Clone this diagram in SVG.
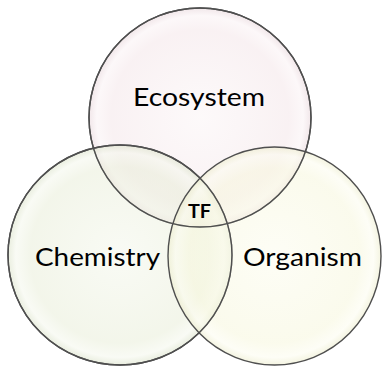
<svg xmlns="http://www.w3.org/2000/svg" width="382" height="368" viewBox="0 0 382 368">
  <defs>
    <radialGradient id="gTop" cx="50%" cy="50%" r="50%">
      <stop offset="0%" stop-color="#fbf5f6"/>
      <stop offset="80%" stop-color="#f4e6e9"/>
      <stop offset="93%" stop-color="#faf2f4"/>
      <stop offset="100%" stop-color="#e6d3d8"/>
    </radialGradient>
    <radialGradient id="gLeft" cx="50%" cy="50%" r="50%">
      <stop offset="0%" stop-color="#f4f7ec"/>
      <stop offset="80%" stop-color="#e9eed9"/>
      <stop offset="93%" stop-color="#f4f7ec"/>
      <stop offset="100%" stop-color="#d8e0c5"/>
    </radialGradient>
    <radialGradient id="gRight" cx="50%" cy="50%" r="50%">
      <stop offset="0%" stop-color="#fcfcee"/>
      <stop offset="80%" stop-color="#f7f7dd"/>
      <stop offset="93%" stop-color="#fcfcef"/>
      <stop offset="100%" stop-color="#ebebc8"/>
    </radialGradient>
  </defs>
  <style>
    .c { fill-opacity: 0.55; stroke: #4f4f4f; stroke-width: 1.4; }
    .lbl { font-family: Lato, "Liberation Sans", sans-serif; font-size: 25px; fill: #000; text-anchor: middle; }
    .tf { font-family: Lato, "Liberation Sans", sans-serif; font-size: 18px; font-weight: bold; fill: #000; text-anchor: middle; }
  </style>
  <rect width="382" height="368" fill="#ffffff"/>
  <g id="node-ecosystem">
    <ellipse class="c" cx="200" cy="117.5" rx="111" ry="109.5" fill="url(#gTop)"/>
  </g>
  <g id="node-chemistry">
    <ellipse class="c" cx="120" cy="255" rx="112" ry="110" fill="url(#gLeft)"/>
  </g>
  <g id="node-organism">
    <ellipse class="c" cx="274.5" cy="256" rx="106.5" ry="109" fill="url(#gRight)"/>
  </g>
  <g id="outlines" fill="none" stroke="#4f4f4f" stroke-width="1.4">
    <ellipse cx="200" cy="117.5" rx="111" ry="109.5"/>
    <ellipse cx="120" cy="255" rx="112" ry="110"/>
  </g>
  <g id="labels">
    <text class="lbl" x="199" y="106" textLength="132" lengthAdjust="spacingAndGlyphs">Ecosystem</text>
    <text class="lbl" x="97.5" y="266" textLength="125" lengthAdjust="spacingAndGlyphs">Chemistry</text>
    <text class="lbl" x="302.5" y="266" textLength="119" lengthAdjust="spacingAndGlyphs">Organism</text>
    <text class="tf" x="199.5" y="218" textLength="23" lengthAdjust="spacingAndGlyphs">TF</text>
  </g>
  <g id="connectors"/>
</svg>
